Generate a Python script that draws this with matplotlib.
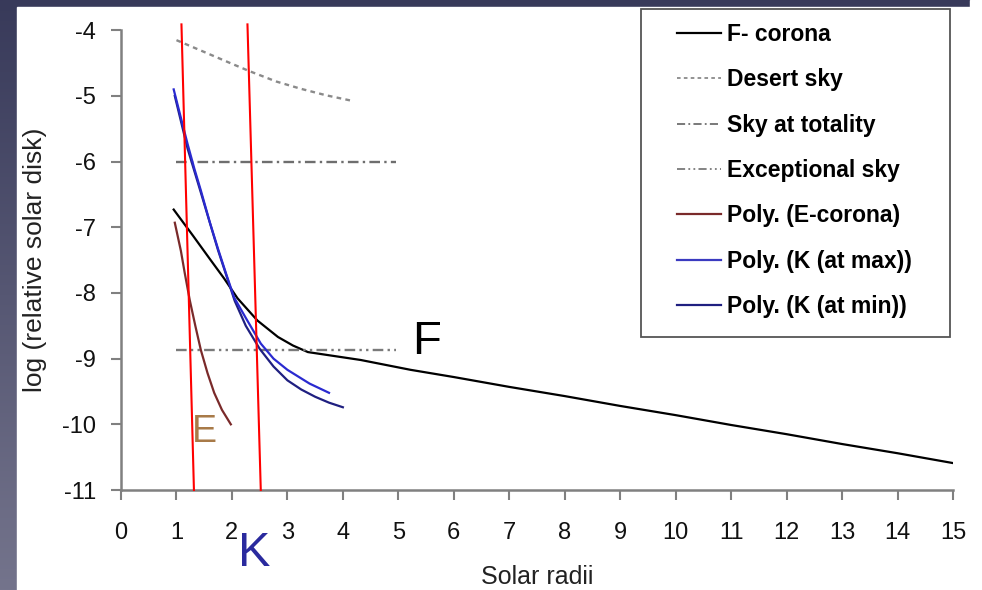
import numpy as np
import matplotlib
matplotlib.use("Agg")
import matplotlib.pyplot as plt
from matplotlib.patches import Rectangle
from matplotlib.lines import Line2D

plt.rcParams['font.family'] = ['Liberation Sans', 'DejaVu Sans']
plt.rcParams['axes.unicode_minus'] = False

# F-corona
f_x = [0.95, 1.3, 1.6, 1.86, 2.1, 2.46, 2.83, 3.1, 3.37, 4.32, 5.22,
       6, 7, 8, 9, 10, 11, 12, 13, 14, 15]
f_y = [-6.73, -7.13, -7.48, -7.78, -8.08, -8.42, -8.67, -8.80, -8.90, -9.02, -9.17,
       -9.28, -9.43, -9.57, -9.72, -9.86, -10.01, -10.15, -10.30, -10.44, -10.59]

# Desert sky
desert_x = [1.0, 1.5, 2.0, 2.31, 2.8, 3.24, 3.7, 4.2]
desert_y = [-4.15, -4.33, -4.51, -4.62, -4.78, -4.89, -4.99, -5.08]

# Sky at totality / exceptional sky (flat levels)
sky_x = [1.0, 4.95]
totality_y = [-6.0, -6.0]
exceptional_y = [-8.87, -8.87]

# Poly. (E-corona)
e_x = [0.97, 1.08, 1.15, 1.24, 1.34, 1.44, 1.56, 1.68, 1.82, 1.98]
e_y = [-6.93, -7.36, -7.7, -8.11, -8.5, -8.87, -9.22, -9.52, -9.78, -10.0]

# Poly. (K (at max))
kmax_x = [0.95, 1.07, 1.2, 1.32, 1.44, 1.6, 1.75, 1.9, 2.04, 2.25, 2.52, 2.75, 3.0, 3.4, 3.75]
kmax_y = [-4.9, -5.3, -5.73, -6.1, -6.44, -6.92, -7.33, -7.72, -8.07, -8.38, -8.77, -9.0,
          -9.17, -9.38, -9.52]

# Poly. (K (at min))
kmin_x = [0.97, 1.2, 1.45, 1.75, 2.05, 2.25, 2.5, 2.75, 3.0, 3.25, 3.5, 3.75, 4.0]
kmin_y = [-5.0, -5.8, -6.5, -7.35, -8.12, -8.5, -8.85, -9.12, -9.33, -9.47, -9.58, -9.67, -9.74]

# red boundary lines
red1_x = [1.09, 1.315]
red2_x = [2.28, 2.52]
red_y = [-3.91, -11.0]

x_ticks = list(range(0, 16))
y_ticks = list(range(-11, -3))

fig = plt.figure(figsize=(9.82, 5.90), dpi=100)

# slide background: dark gradient frame, white page
bg = fig.add_axes([0, 0, 1, 1], zorder=-10)
grad = np.linspace(0, 1, 256).reshape(-1, 1)
cmap = matplotlib.colors.LinearSegmentedColormap.from_list('bg', ['#383a5a', '#74748c'])
bg.imshow(grad, aspect='auto', cmap=cmap, extent=[0, 1, 0, 1], origin='upper')
bg.add_patch(Rectangle((17 / 982, 0), 1, 1 - 7 / 590, color='white'))
bg.add_patch(Rectangle((970 / 982, 0), 1, 1, color='white'))
bg.set_xlim(0, 1)
bg.set_ylim(0, 1)
bg.axis('off')

ax = fig.add_axes([121 / 982, 1 - 490 / 590, (953 - 121) / 982, (490 - 30.3) / 590])
ax.patch.set_alpha(0)

gray = '#6e6e6e'
ax.plot(f_x, f_y, color='black', lw=1.6, label='F- corona')
ax.plot(desert_x, desert_y, color='#8a8a8a', lw=1.7, dashes=(2, 1.8), label='Desert sky')
ax.plot(sky_x, totality_y, color=gray, lw=1.7, dashes=(4.5, 1.8, 1, 1.8), label='Sky at totality')
ax.plot(sky_x, exceptional_y, color='#7a7a7a', lw=1.7,
        dashes=(4.5, 1.8, 1, 1.8, 1, 1.8), label='Exceptional sky')
ax.plot(e_x, e_y, color='#7a2a2a', lw=1.6, label='Poly. (E-corona)')
ax.plot(kmin_x, kmin_y, color='#1f1f80', lw=1.6, zorder=3)
ax.plot(kmax_x, kmax_y, color='#2a2ad0', lw=1.6, zorder=4)

ax.plot(red1_x, red_y, color='red', lw=1.5, clip_on=False, zorder=5)
ax.plot(red2_x, red_y, color='red', lw=1.5, clip_on=False, zorder=5)

ax.text(5.51, -8.75, 'F', fontsize=34, color='black', ha='center', va='center')
ax.text(1.51, -10.12, 'E', fontsize=27, color='#a87a48', ha='center', va='center')
ax.text(2.40, -11.97, 'K', fontsize=35, color='#2a2a9e', ha='center', va='center',
        clip_on=False)

ax.set_xlim(0, 15)
ax.set_ylim(-11, -4)
ax.set_xticks(x_ticks)
ax.set_yticks(y_ticks)
for s in ['top', 'right']:
    ax.spines[s].set_visible(False)
for s in ['left', 'bottom']:
    ax.spines[s].set_color('#808080')
    ax.spines[s].set_linewidth(1.8)
ax.tick_params(direction='out', length=7, width=1.5, color='#808080',
               labelsize=17, labelcolor='#111111')
ax.tick_params(axis='x', pad=16)
ax.tick_params(axis='y', pad=11)
ax.set_xlabel('Solar radii', fontsize=18, color='#222222', va='center')
ax.set_ylabel('log (relative solar disk)', fontsize=19, color='#222222')
ax.xaxis.set_label_coords(0.5, -0.19)
ax.yaxis.set_label_coords(-0.089, 0.5)

# legend (frame drawn separately)
handles = [
    Line2D([], [], color='black', lw=1.6),
    Line2D([], [], color='#8a8a8a', lw=1.3, dashes=(2, 1.8)),
    Line2D([], [], color=gray, lw=1.3, dashes=(4.5, 1.8, 1, 1.8)),
    Line2D([], [], color='#7a7a7a', lw=1.3, dashes=(4.5, 1.8, 1, 1.8, 1, 1.8)),
    Line2D([], [], color='#7a2a2a', lw=1.6),
    Line2D([], [], color='#3a3ac0', lw=1.6),
    Line2D([], [], color='#1f1f80', lw=1.6),
]
labels = ['F- corona', 'Desert sky', 'Sky at totality', 'Exceptional sky',
          'Poly. (E-corona)', 'Poly. (K (at max))', 'Poly. (K (at min))']
fig.legend(handles, labels, loc='upper left', bbox_to_anchor=(677 / 982, 1 - 23 / 590),
           frameon=False, borderpad=0, borderaxespad=0, handlelength=1.9,
           handletextpad=0.3, labelspacing=0.975,
           prop={'size': 16.5, 'weight': 'bold'})
fig.add_artist(Rectangle((641 / 982, 1 - 337 / 590), (950 - 641) / 982, (337 - 9) / 590,
                         transform=fig.transFigure, fill=False, edgecolor='#555555', lw=1.3))

fig.savefig('out.png', dpi=100)
